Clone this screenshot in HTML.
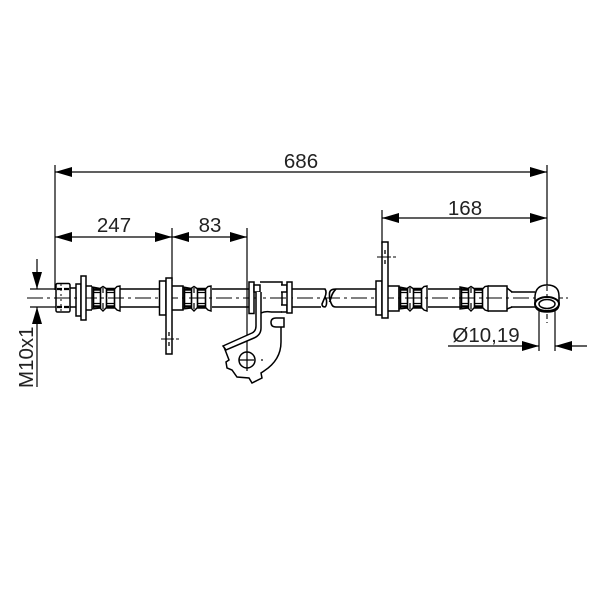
<!DOCTYPE html>
<html>
<head>
<meta charset="utf-8">
<style>
html,body{margin:0;padding:0;background:#fff;width:600px;height:600px;overflow:hidden}
svg{display:block}
text{font-family:"Liberation Sans",sans-serif;font-size:20.5px;fill:#222}
</style>
</head>
<body>
<svg width="600" height="600" viewBox="0 0 600 600" xmlns="http://www.w3.org/2000/svg">
<rect width="600" height="600" fill="#fff"/>
<defs>
<g id="crimp" fill="none" stroke="#000">
  <path d="M0 287L8 288.500L11 286.500L14 288.500H23L25 286.500L28 286V311L25 310L23 308H14L11 311L8 308L0 309Z" stroke-width="1.4"/>
  <path d="M1 289.500H9M14 289.500H23M1 306.500H9M14 306.500H23" stroke-width="2.4"/>
  <path d="M1 292.500H9M14 292.500H23M1 303.500H9M14 303.500H23" stroke-width="1.2"/>
  <path d="M1.500 288V308M8.500 288V308M14.500 288V308M22.500 288V308" stroke-width="1.6"/>
  <path d="M11 288V293M11 303V309" stroke-width="1.2"/>
</g>
<marker id="a" viewBox="0 0 17 10" refX="17" refY="5" markerUnits="userSpaceOnUse" markerWidth="17" markerHeight="10" orient="auto-start-reverse"><path d="M0 0L17 5L0 10z" fill="#000"/></marker>
</defs>

<!-- dimension lines -->
<g fill="none" stroke="#000" stroke-width="1.2">
  <path d="M55 165V290M172 228V281M247 228V347M382 210V244M547 165V285"/>
  <path d="M55 172H547" marker-start="url(#a)" marker-end="url(#a)"/>
  <path d="M55 237H172" marker-start="url(#a)" marker-end="url(#a)"/>
  <path d="M172 237H247" marker-start="url(#a)" marker-end="url(#a)"/>
  <path d="M382 218H547" marker-start="url(#a)" marker-end="url(#a)"/>
  <path d="M30 289H56M30 307H56"/>
  <path d="M37 259V289" marker-end="url(#a)"/>
  <path d="M37 387V307" marker-end="url(#a)"/>
  <path d="M448 346H539" marker-end="url(#a)"/>
  <path d="M587 346H555" marker-end="url(#a)"/>
  <path d="M539 310V351M555 310V351"/>
</g>

<!-- tube -->
<g fill="none" stroke="#000" stroke-width="1.6">
  <path d="M120 289H159M120 307H159M212 289H249M212 307H249"/>
  <path d="M292 289H325Q327 292 325 297L322 304Q322 307 325 307Q327 306 326.500 300L325 297M292 307H321"/>
  <path d="M376 289H336Q330 289 329.500 293Q329 300 332 305Q333 307 336 307H376M336 289Q332 293 331 298L329.500 302"/>
  <path d="M428 289H461M428 307H461"/>
  <path d="M511 292H535M511 307H535"/>
</g>

<!-- centre line -->
<path d="M27 298H568" fill="none" stroke="#000" stroke-width="1.1" stroke-dasharray="16 4 3 4"/>

<!-- left fitting -->
<g fill="#fff" stroke="#000" stroke-width="1.5">
  <rect x="56" y="283.500" width="14" height="28.500" rx="1.500" fill="none"/>
  <path d="M70 288H76M70 307H76" fill="none"/>
  <rect x="76" y="284" width="5" height="32" fill="none"/>
  <rect x="81" y="276" width="5" height="44" fill="#fff"/>
  <path d="M86 286H92M86 310H92" fill="none"/>
  <path d="M57 289H69M57 307H69" fill="none" stroke-width="2.2" stroke-dasharray="5 2"/>
  <path d="M61 284V312" fill="none" stroke-width="1" stroke-dasharray="2 3"/>
</g>
<use href="#crimp" x="92"/>

<!-- second clip -->
<g fill="#fff" stroke="#000" stroke-width="1.5">
  <rect x="159.500" y="281" width="6.500" height="34"/>
  <rect x="166" y="278" width="6" height="76"/>
  <path d="M172 286H183V310H172" fill="none"/>
</g>
<use href="#crimp" x="183"/>

<!-- third clip -->
<g fill="#fff" stroke="#000" stroke-width="1.5">
  <rect x="376" y="281" width="6" height="34"/>
  <rect x="382" y="242" width="6" height="76"/>
  <path d="M388 286H399V311H388" fill="none"/>
</g>
<use href="#crimp" x="399"/>

<!-- right fitting -->
<g fill="none" stroke="#000" stroke-width="1.5">
  <path d="M488 286H507V311H488"/>
  <path d="M507 288L512 292M507 309L512 307"/>
</g>
<use href="#crimp" x="460"/>

<!-- centre marks on clips -->
<g fill="none" stroke="#000" stroke-width="1.1">
  <path d="M161 339H174M176 339H179M377 257H391M393 257H396"/>
  <path d="M169 332V336M169 342V346M385 250V254M385 260V264" stroke-width="1.3"/>
</g>

<!-- bracket -->
<g fill="none" stroke="#000" stroke-width="1.5">
  <rect x="249" y="282" width="5" height="31.500" fill="#fff"/>
  <rect x="254" y="285" width="6" height="7" fill="#fff"/>
  <path d="M260 282H282V285M282 292V305M282 312H271"/>
  <path d="M281 285H287V292H281M281 305H287V312H281"/>
  <rect x="287" y="282" width="5" height="31" fill="#fff"/>
  <path d="M281 327V342Q281 360 264 371L261 373L262 378L252 383L249 378L237 377L232 370L227 368L226 362L229 360L224 347"/>
  <path d="M256 292V326Q256 331 252 333L223 346L226 350L254 338Q261 335 261 328V292" fill="#fff"/>
  <path d="M261 313Q265 311 271 312"/>
  <path d="M276 318H284V327H276Q271 327 271 322.500Q271 318 276 318Z"/>
  <circle cx="247" cy="360" r="8"/>
  <path d="M247 347V371M239 360H254" stroke-width="1.2"/>
  <path d="M261 360H263" stroke-width="1.2"/>
</g>

<!-- banjo -->
<g stroke="#000" stroke-width="1.5">
  <path d="M535 296Q536 285 547 285Q559 285 559 296L559 304Q559 312 547 312Q535 312 535 304Z" fill="#fff"/>
  <ellipse cx="547" cy="304" rx="12" ry="7" fill="#fff" stroke-width="2"/>
  <ellipse cx="547" cy="304" rx="8" ry="4.500" fill="#fff"/>
  <path d="M547 286V296M547 314V323" fill="none" stroke-width="1.1" stroke-dasharray="5 3"/>
  <path d="M559 298H568" fill="none" stroke-width="1.1" stroke-dasharray="4 3"/>
</g>

<!-- labels -->
<text x="301" y="168" text-anchor="middle">686</text>
<text x="114" y="232" text-anchor="middle">247</text>
<text x="210" y="232" text-anchor="middle">83</text>
<text x="465" y="215" text-anchor="middle">168</text>
<text x="486" y="342" text-anchor="middle">Ø10,19</text>
<text transform="translate(33 388) rotate(-90)">M10x1</text>
</svg>
</body>
</html>
